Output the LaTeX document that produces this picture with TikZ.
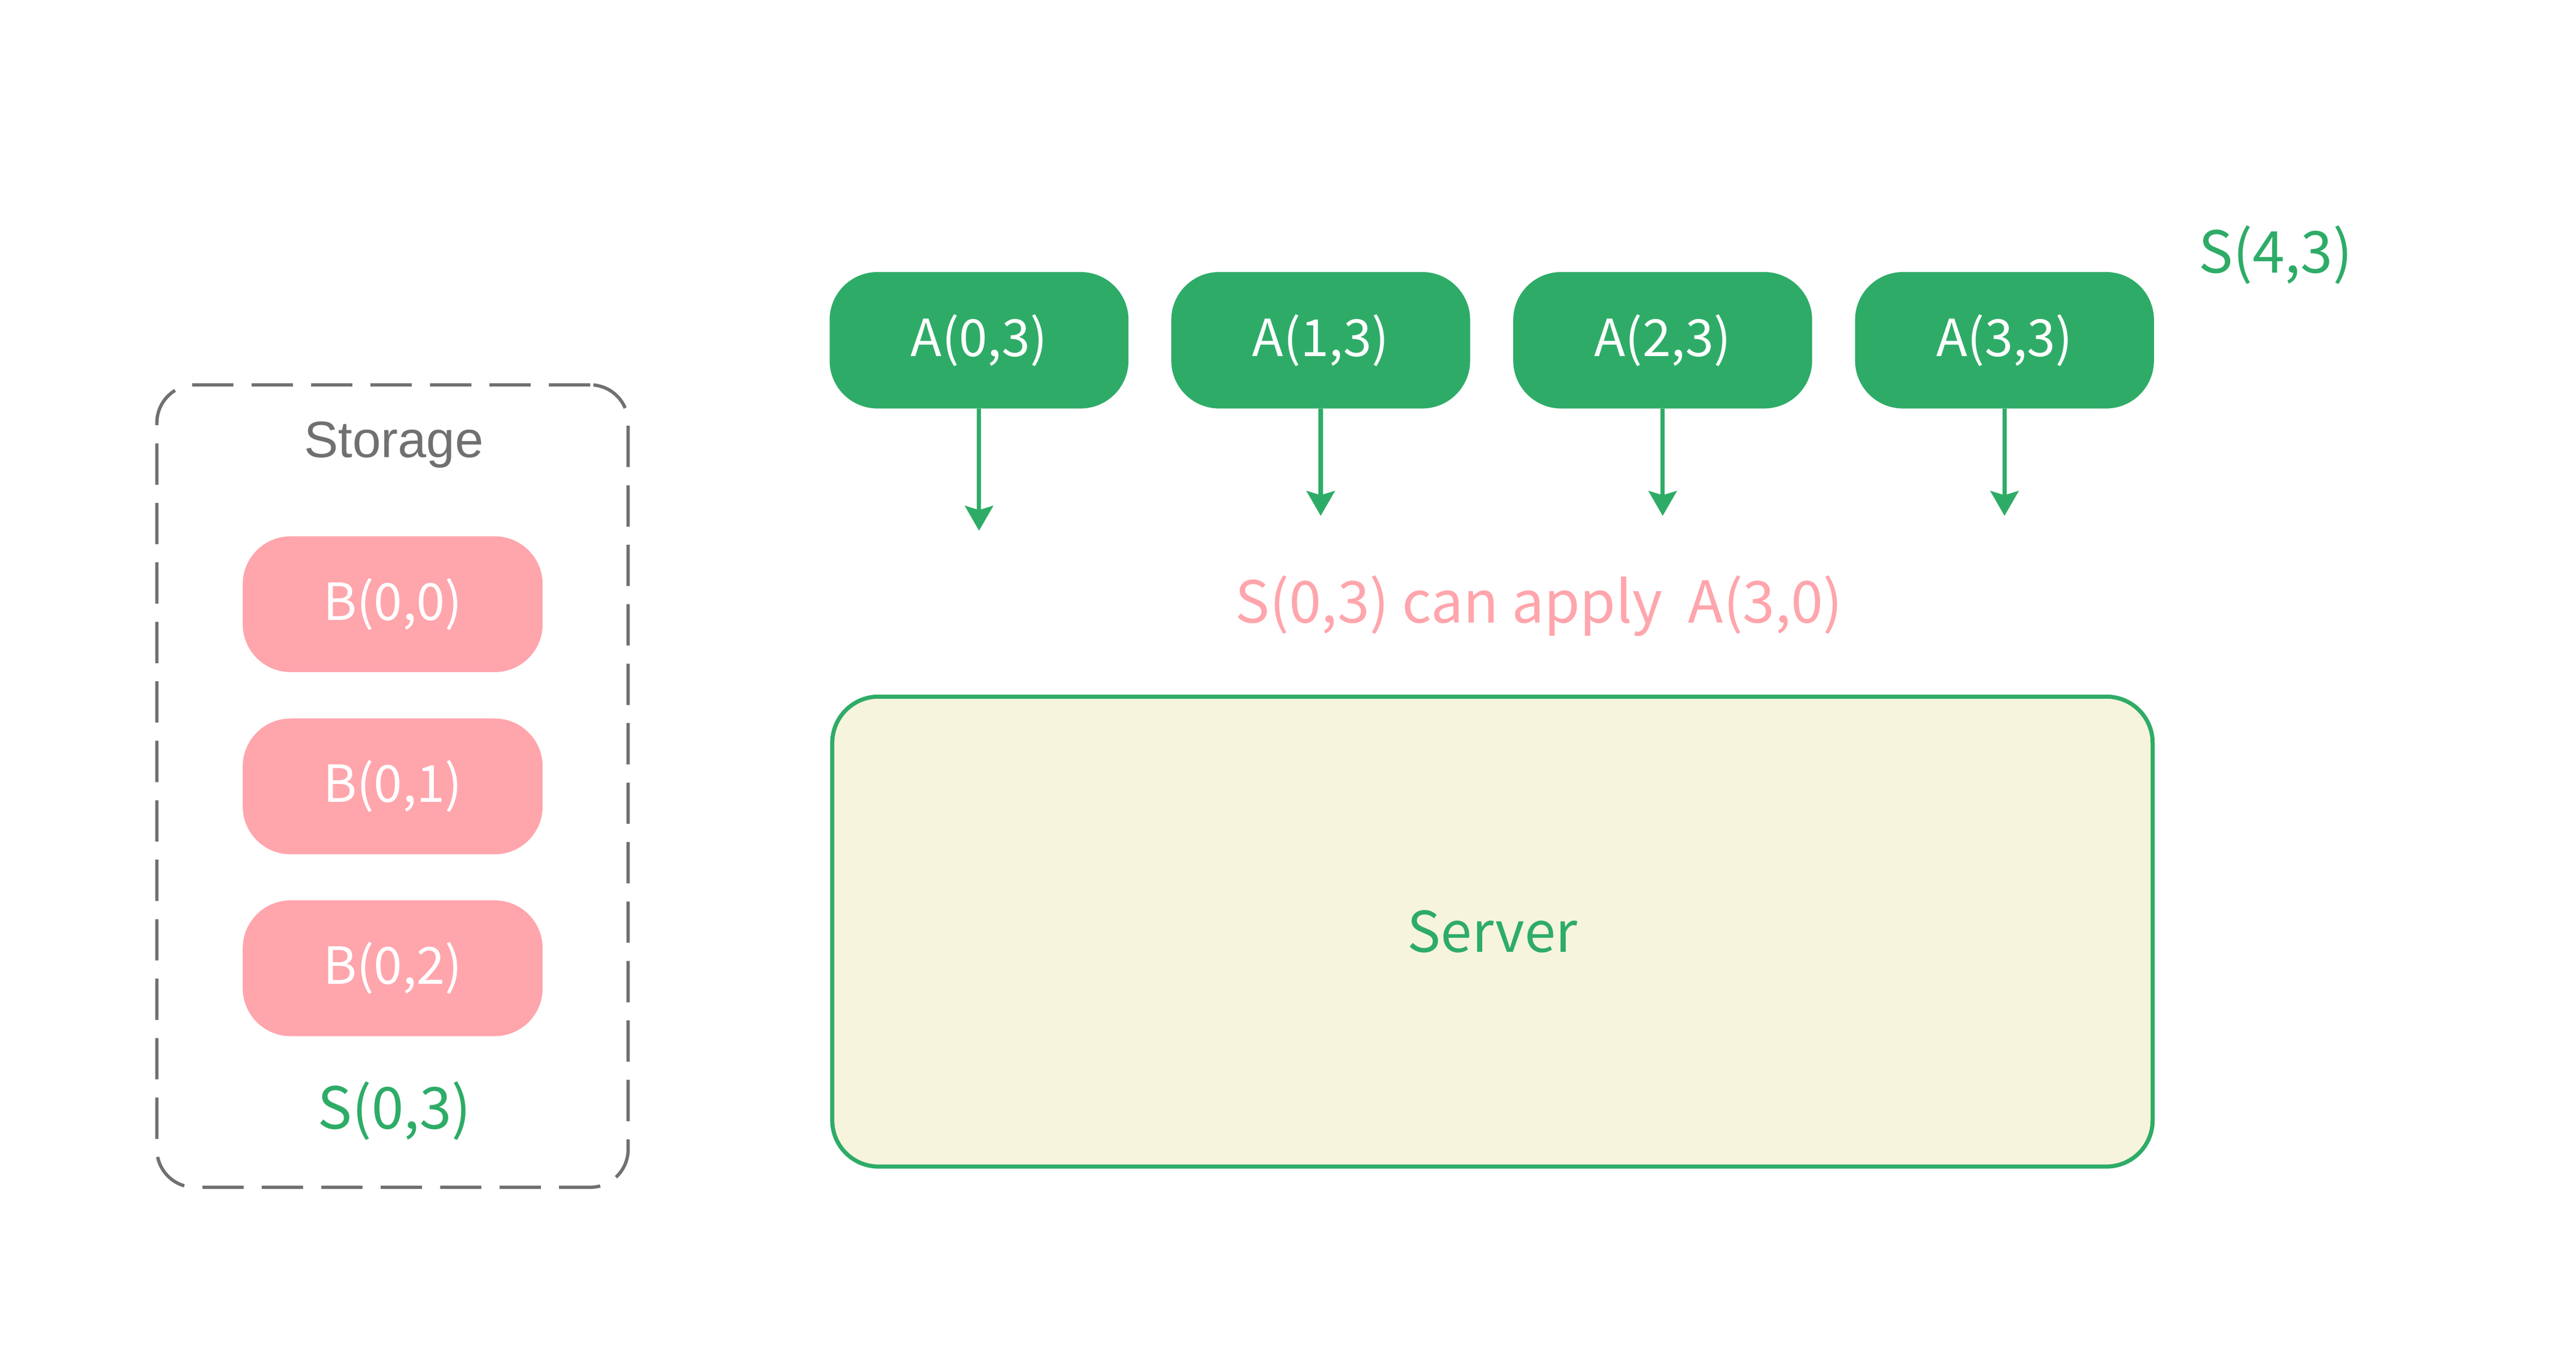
\documentclass[tikz,border=0pt]{standalone}
\usepackage{fontspec}
\setmainfont{Noto Sans CJK SC}
\newfontfamily\arialfont{Liberation Sans}
\usetikzlibrary{arrows.meta}
\definecolor{cgreen}{RGB}{46,172,103}
\definecolor{cpink}{RGB}{255,165,172}
\definecolor{cgray}{RGB}{112,112,112}
\definecolor{cbeige}{RGB}{246,244,220}
\begin{document}
\begin{tikzpicture}[x=1pt,y=-1pt,
  abox/.style={rectangle, rounded corners=29pt, fill=cgreen, text=white,
    minimum width=181pt, minimum height=82.6pt, inner sep=0pt,
    font=\fontsize{31}{37}\selectfont},
  bbox/.style={abox, fill=cpink, minimum width=181.6pt, minimum height=82.2pt},
  lbl/.style={font=\fontsize{35}{42}\selectfont, inner sep=0pt, anchor=base},
  arr/.style={draw=cgreen, line width=2.5pt,
    -{Stealth[length=15pt,width=17pt,inset=2.5pt]}},
]
\useasboundingbox[fill=white] (0,0) rectangle (1560,823.2);

% storage container
\node[draw=cgray, line width=2pt, dash pattern=on 25pt off 11pt,
  rounded corners=23pt, minimum width=285.4pt, minimum height=485.8pt,
  inner sep=0pt] (storage) at (237.7,475.9) {};
\node[lbl, text=cgray, font=\arialfont\fontsize{31}{37}\selectfont]
  (storagelbl) at (238.5,277) {Storage};

\node[bbox] (b0) at (237.8,365.8) {B(0,0)};
\node[bbox] (b1) at (237.8,476.1) {B(0,1)};
\node[bbox] (b2) at (237.8,586.2) {B(0,2)};
\node[lbl, text=cgreen] (s03) at (238.9,683.3) {S(0,3)};

% A boxes
\node[abox] (a0) at (592.9,206) {A(0,3)};
\node[abox] (a1) at (799.8,206) {A(1,3)};
\node[abox] (a2) at (1006.9,206) {A(2,3)};
\node[abox] (a3) at (1213.9,206) {A(3,3)};
\node[lbl, text=cgreen] (s43) at (1378,165.1) {S(4,3)};

\coordinate (t0) at (592.9,321.3);
\coordinate (t1) at (799.8,312.3);
\coordinate (t2) at (1006.9,312.3);
\coordinate (t3) at (1213.9,312.3);
\draw[arr] (a0.south) -- (t0);
\draw[arr] (a1.south) -- (t1);
\draw[arr] (a2.south) -- (t2);
\draw[arr] (a3.south) -- (t3);

\node[lbl, text=cpink] (apply) at (932,377) {S(0,3) can apply\ \ A(3,0)};

% server
\node[draw=cgreen, line width=2.5pt, fill=cbeige, rounded corners=28pt,
  minimum width=799.6pt, minimum height=284.5pt, inner sep=0pt,
  text=cgreen, font=\fontsize{34}{41}\selectfont] (server) at (903.8,564) {Server};
\end{tikzpicture}
\end{document}
